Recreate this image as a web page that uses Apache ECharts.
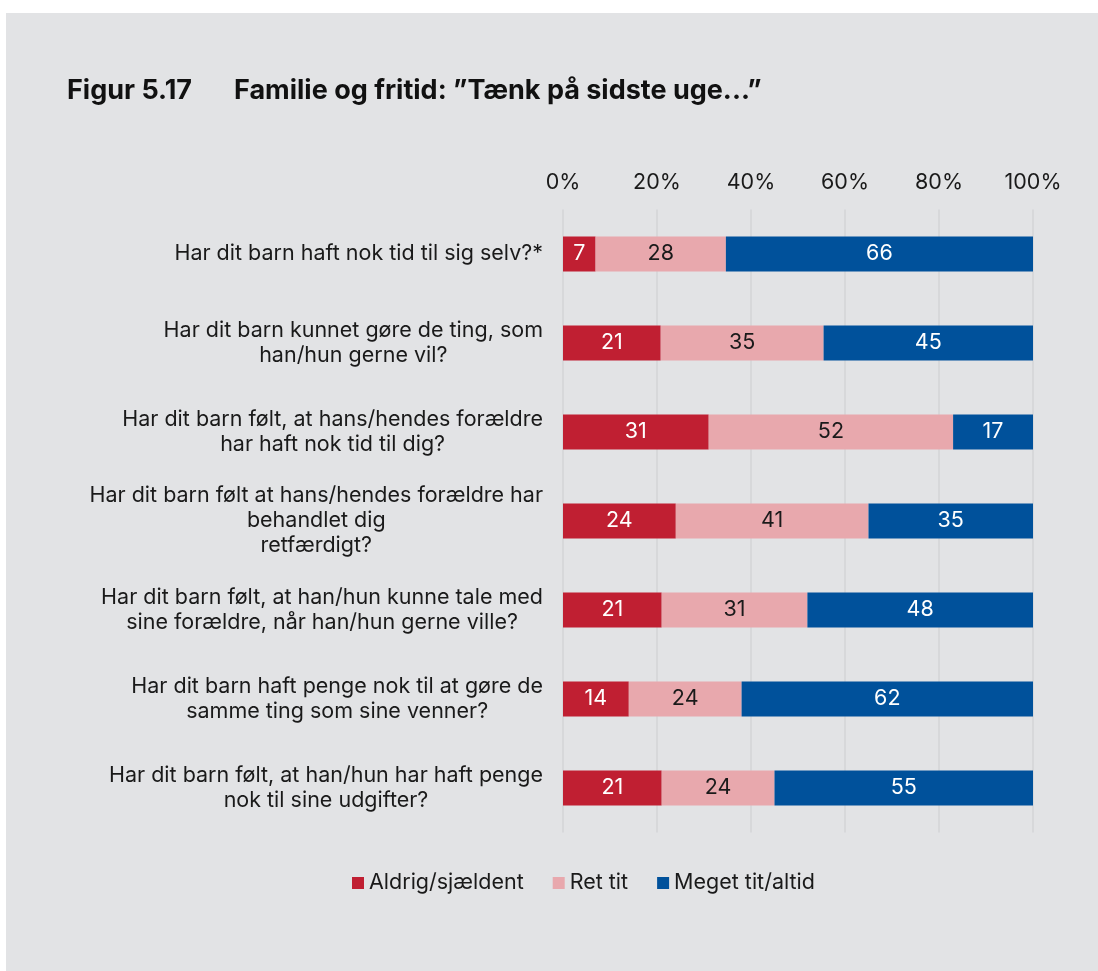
<!DOCTYPE html>
<html>
<head>
<meta charset="utf-8">
<script src="https://cdn.jsdelivr.net/npm/echarts@6/dist/echarts.min.js"></script>
<style>
html,body{margin:0;padding:0;background:#ffffff;}
#bg{position:absolute;left:6px;top:13px;width:1092px;height:958px;background:#e2e3e5;}
#chart{position:absolute;left:0;top:0;width:1098px;height:971px;}
</style>
</head>
<body>
<div id="bg"></div>
<div id="chart"></div>
<script>
const categories = [
  "Har dit barn haft nok tid til sig selv?*",
  "Har dit barn kunnet gøre de ting, som\nhan/hun gerne vil?",
  "Har dit barn følt, at hans/hendes forældre\nhar haft nok tid til dig?",
  "Har dit barn følt at hans/hendes forældre har\nbehandlet dig\nretfærdigt?",
  "Har dit barn følt, at han/hun kunne tale med\nsine forældre, når han/hun gerne ville?",
  "Har dit barn haft penge nok til at gøre de\nsamme ting som sine venner?",
  "Har dit barn følt, at han/hun har haft penge\nnok til sine udgifter?"
];
const seriesNames = ["Aldrig/sjældent", "Ret tit", "Meget tit/altid"];
const aldrig = [7, 21, 31, 24, 21, 14, 21];
const retTit = [28, 35, 52, 41, 31, 24, 24];
const megetTit = [66, 45, 17, 35, 48, 62, 55];
const tickLabels = ["0%", "20%", "40%", "60%", "80%", "100%"];
const colors = ["#c01f32", "#e8a8ad", "#00519b"];
const labelColors = ["#ffffff", "#1a1a1a", "#ffffff"];

const FONT = "Inter, 'Noto Sans', sans-serif";
const raw = [aldrig, retTit, megetTit];
const totals = categories.map((c, i) => aldrig[i] + retTit[i] + megetTit[i]);

const chart = echarts.init(document.getElementById('chart'), null, {renderer: 'canvas'});
const option = {
  backgroundColor: 'transparent',
  animation: false,
  textStyle: {fontFamily: FONT},
  title: {
    left: 67, top: 77, padding: 0,
    text: '{a|Figur 5.17}{b|Familie og fritid: ”Tænk på sidste uge...”}',
    textStyle: {
      rich: {
        a: {fontFamily: FONT, fontWeight: 'bold', fontSize: 27, color: '#111111', width: 167},
        b: {fontFamily: FONT, fontWeight: 'bold', fontSize: 27, color: '#111111'}
      }
    }
  },
  legend: {
    left: 352, top: 872, padding: 0,
    itemWidth: 12, itemHeight: 12, itemGap: 29,
    icon: 'rect',
    textStyle: {fontFamily: FONT, fontSize: 21.5, color: '#1a1a1a'},
    data: seriesNames
  },
  grid: {left: 563, right: 65, top: 209.5, bottom: 138.5, containLabel: false},
  xAxis: {
    type: 'value', position: 'top', min: 0, max: 100, interval: 20,
    axisLine: {show: false}, axisTick: {show: false},
    axisLabel: {
      fontFamily: FONT, fontSize: 21.5, color: '#1a1a1a', margin: 16,
      formatter: (v) => tickLabels[Math.round(v / 20)]
    },
    splitLine: {show: true, lineStyle: {color: '#d3d4d6', width: 1.5}}
  },
  yAxis: {
    type: 'category', inverse: true, data: categories,
    axisLine: {show: false}, axisTick: {show: false},
    axisLabel: {
      margin: 20, align: 'right',
      formatter: (v) => v.split('\n').map(l => '{c|' + l + '}').join('\n'),
      rich: {c: {fontFamily: FONT, fontSize: 21.5, color: '#1a1a1a', align: 'center', lineHeight: 25}}
    }
  },
  series: seriesNames.map((name, s) => ({
    name: name, type: 'bar', stack: 'total',
    barWidth: 35,
    itemStyle: {color: colors[s]},
    label: {
      show: true, position: 'inside',
      fontFamily: FONT, fontSize: 21.5, color: labelColors[s],
      formatter: (p) => String(raw[s][p.dataIndex])
    },
    data: raw[s].map((v, i) => v / totals[i] * 100)
  }))
};
chart.setOption(option);
</script>
</body>
</html>
